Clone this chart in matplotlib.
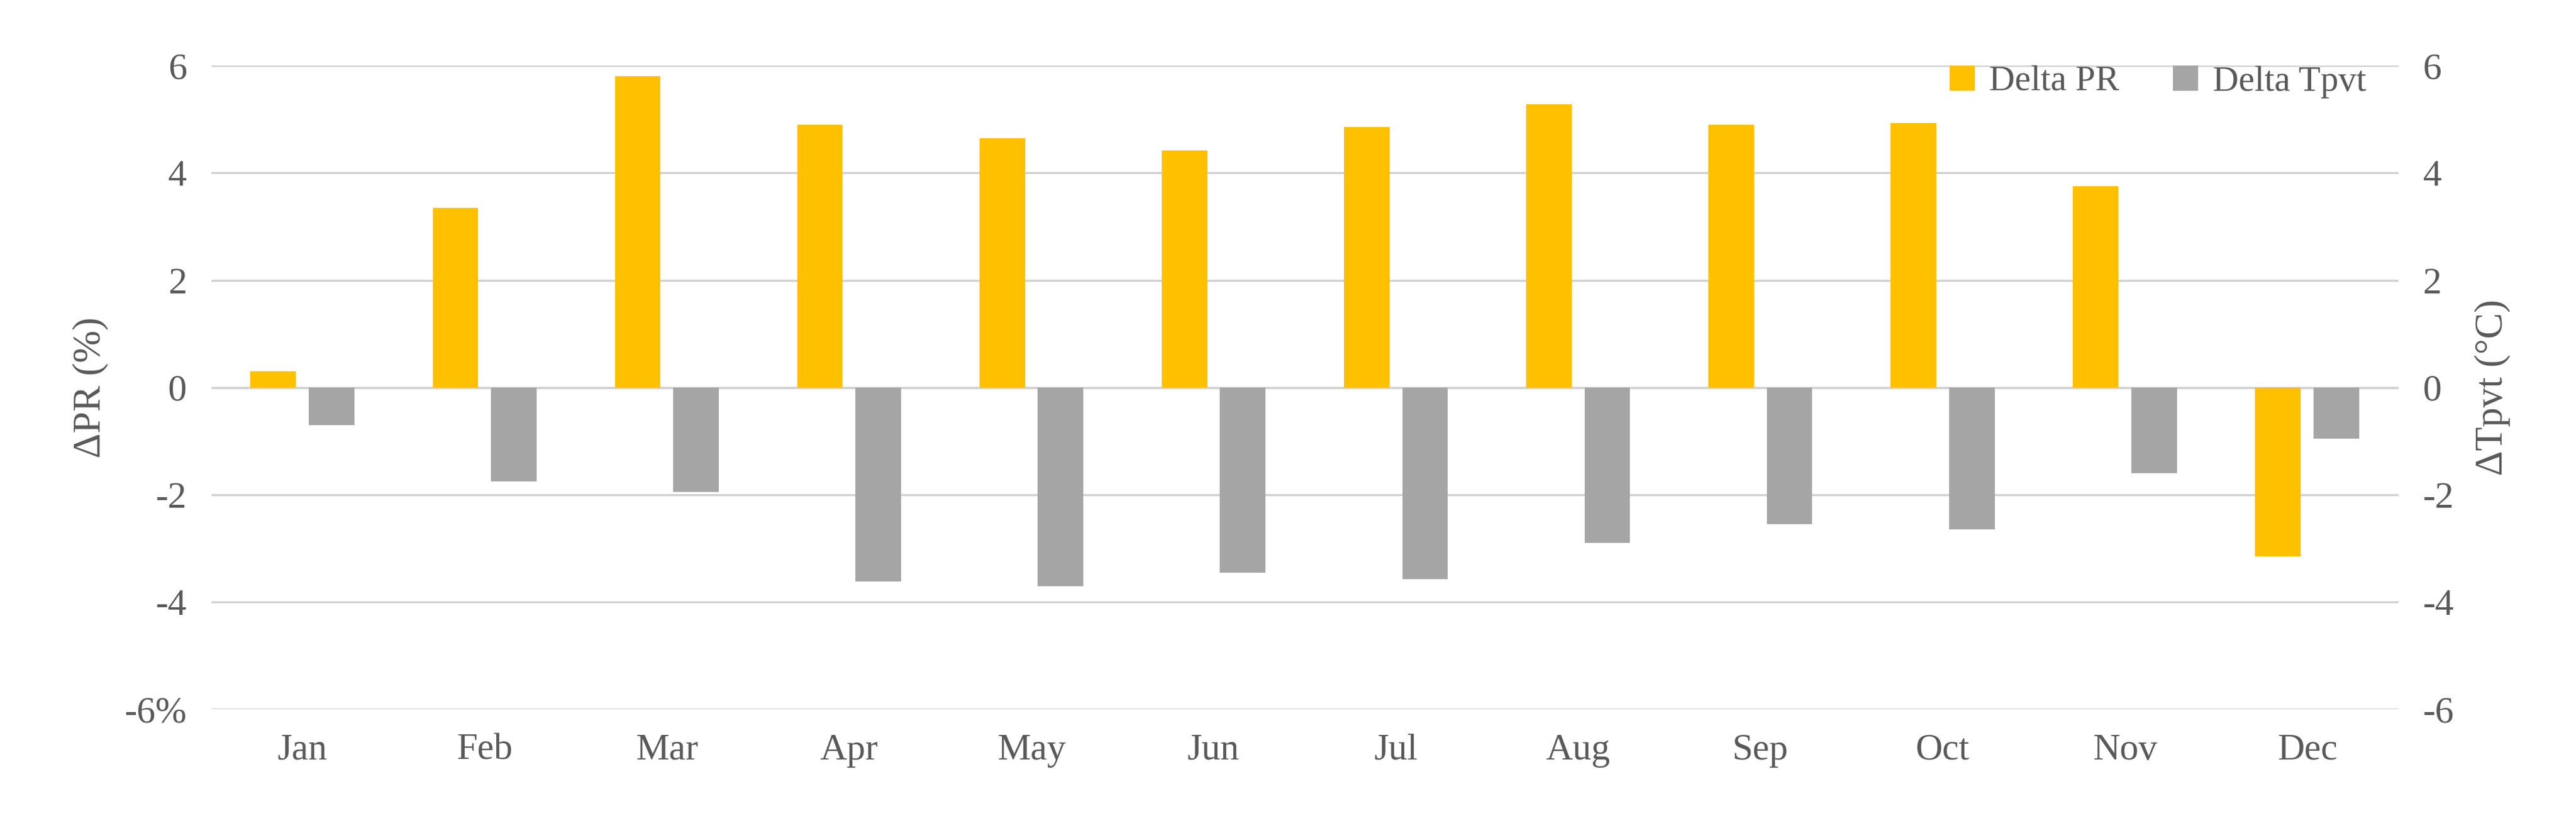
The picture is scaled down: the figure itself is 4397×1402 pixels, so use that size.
import matplotlib
matplotlib.use("Agg")
import matplotlib.pyplot as plt
import numpy as np

months = ["Jan","Feb","Mar","Apr","May","Jun","Jul","Aug","Sep","Oct","Nov","Dec"]
delta_pr = [0.3, 3.35, 5.8, 4.9, 4.65, 4.42, 4.85, 5.28, 4.9, 4.93, 3.75, -3.15]
delta_tpvt = [-0.7, -1.75, -1.95, -3.62, -3.7, -3.45, -3.57, -2.9, -2.55, -2.65, -1.6, -0.95]
yticks = [-6, -4, -2, 0, 2, 4, 6]
left_labels = ["-6%", "-4", "-2", "0", "2", "4", "6"]
right_labels = ["-6", "-4", "-2", "0", "2", "4", "6"]

plt.rcParams['font.family'] = ['Liberation Serif', 'DejaVu Serif']
fig = plt.figure(figsize=(43.97, 14.02), dpi=100)
ax = fig.add_axes([0.082, 0.136, 0.849, 0.784])
x = np.arange(len(months))
w = 0.25
ax.bar(x - 0.16, delta_pr, w, color="#FFC000", label="Delta PR", zorder=3)
ax.bar(x + 0.16, delta_tpvt, w, color="#A5A5A5", label="Delta Tpvt", zorder=3)
ax.set_ylim(-6, 6)
ax.set_xlim(-0.5, 11.5)
ax.set_yticks(yticks)
ax.set_yticklabels(left_labels)
ax.set_xticks(x)
ax.set_xticklabels(months)
ax.grid(axis="y", color="#D0D0D0", linewidth=2.5, zorder=0)
ax.axhline(0, color="#D0D0D0", linewidth=2.5, zorder=1)
for s in ax.spines.values():
    s.set_visible(False)
ax.tick_params(axis="both", length=0, labelsize=46, colors="#595959", pad=30)
ax.set_ylabel("ΔPR (%)", fontsize=48, color="#595959", labelpad=20)
ax2 = ax.twinx()
ax2.set_ylim(-6, 6)
ax2.set_yticks(yticks)
ax2.set_yticklabels(right_labels)
for s in ax2.spines.values():
    s.set_visible(False)
ax2.tick_params(axis="y", length=0, labelsize=46, colors="#595959", pad=30)
ax2.set_ylabel("ΔTpvt (°C)", fontsize=48, color="#595959", labelpad=25, rotation=90)
leg = ax.legend(loc="upper right", bbox_to_anchor=(1.0, 1.05), ncol=2, frameon=False,
                fontsize=44, handlelength=0.7, handleheight=0.7, columnspacing=1.5,
                handletextpad=0.4)
for t in leg.get_texts():
    t.set_color("#595959")
fig.savefig("out.png", dpi=100)
